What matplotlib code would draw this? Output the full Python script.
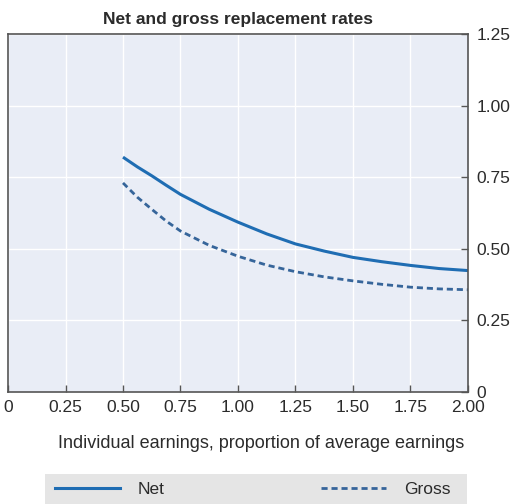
import matplotlib.pyplot as plt
from matplotlib.patches import Rectangle
from matplotlib.lines import Line2D

# data
earnings = [0.5, 0.5625, 0.625, 0.6875, 0.75, 0.875, 1.0, 1.125, 1.25, 1.375, 1.5, 1.625, 1.75, 1.875, 2.0]
net = [0.82, 0.786, 0.755, 0.722, 0.69, 0.638, 0.593, 0.552, 0.517, 0.492, 0.47, 0.455, 0.442, 0.431, 0.424]
gross = [0.73, 0.68, 0.638, 0.597, 0.562, 0.512, 0.474, 0.443, 0.42, 0.402, 0.388, 0.376, 0.366, 0.36, 0.357]

xticks = [0, 0.25, 0.5, 0.75, 1.0, 1.25, 1.5, 1.75, 2.0]
xticklabels = ["0", "0.25", "0.50", "0.75", "1.00", "1.25", "1.50", "1.75", "2.00"]
yticks = [0, 0.25, 0.5, 0.75, 1.0, 1.25]
yticklabels = ["0", "0.25", "0.50", "0.75", "1.00", "1.25"]

net_col = "#1f6db3"
gross_col = "#36659a"
txt = "#2b2b2b"

plt.rcParams["font.family"] = ["Liberation Sans", "DejaVu Sans"]

fig = plt.figure(figsize=(5.2, 5.04), dpi=100)
ax = fig.add_axes([8 / 520, 112 / 504, 460 / 520, 358 / 504])
ax.set_facecolor("#e9edf6")

ax.plot(earnings, net, color=net_col, lw=2.2, solid_capstyle="butt", solid_joinstyle="round")
ax.plot(earnings, gross, color=gross_col, lw=2.0, dashes=(2.2, 1.4))

ax.set_xlim(0, 2.0)
ax.set_ylim(0, 1.25)
ax.set_xticks(xticks)
ax.set_xticklabels(xticklabels)
ax.set_yticks(yticks)
ax.set_yticklabels(yticklabels)
ax.yaxis.tick_right()
ax.grid(True, color="white", lw=1.0)
ax.set_axisbelow(True)
ax.tick_params(axis="x", direction="in", length=5, width=1, color="#555555",
               labelsize=12.5, labelcolor=txt, pad=6)
ax.tick_params(axis="y", direction="in", length=5, width=1, color="#555555",
               labelsize=12.5, labelcolor=txt, pad=6)
for s in ax.spines.values():
    s.set_color("#555555")
    s.set_linewidth(1.2)

ax.set_title("Net and gross replacement rates", fontsize=12.5, fontweight="bold",
             color=txt, pad=7)
ax.set_xlabel("Individual earnings, proportion of average earnings", fontsize=13,
              color=txt, labelpad=9)
ax.xaxis.set_label_coords(253 / 460, -43 / 358)

# legend box
fig.patches.append(Rectangle((45 / 520, 0), 422 / 520, 30 / 504,
                             transform=fig.transFigure, facecolor="#e5e5e5",
                             edgecolor="none", zorder=0))
handles = [Line2D([], [], color=net_col, lw=2.2),
           Line2D([], [], color=gross_col, lw=2.0, dashes=(2.2, 1.4))]
fig.legend(handles, ["Net", "Gross"], loc="center left", bbox_to_anchor=(55 / 520, 15 / 504),
           ncol=2, frameon=False, fontsize=12.5, handlelength=3.74, handletextpad=1.03,
           columnspacing=9.0, labelcolor=txt, borderpad=0, borderaxespad=0)

fig.savefig("out.png", dpi=100)
